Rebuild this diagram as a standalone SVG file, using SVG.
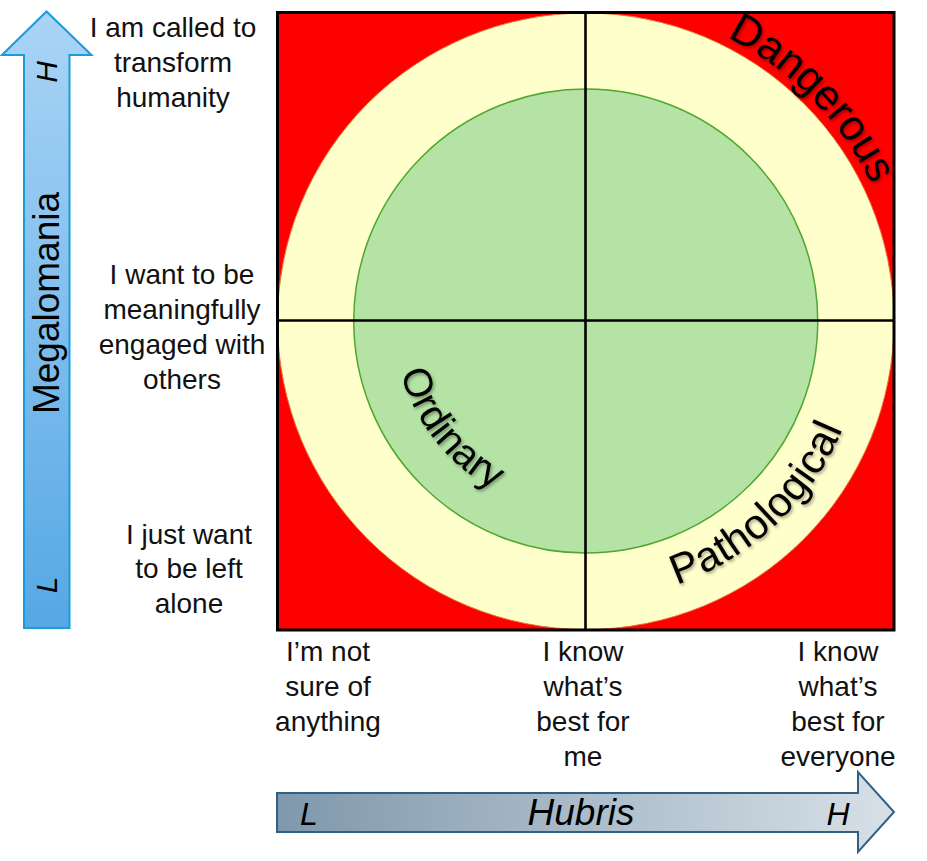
<svg xmlns="http://www.w3.org/2000/svg" width="927" height="861" viewBox="0 0 927 861">
<style>
.lbl{font-family:"Liberation Sans","Open Sans",Arial,sans-serif;font-size:28px;fill:#111;text-anchor:middle}
.arc{font-family:"Liberation Sans","Open Sans",Arial,sans-serif;fill:#000;filter:url(#sh)}
.ax{font-family:"Liberation Sans","Open Sans",Arial,sans-serif;fill:#000;text-anchor:middle}
.cross{stroke:#000;stroke-width:2.6;fill:none}
</style>
<defs>
<linearGradient id="gv" x1="0" y1="0" x2="0" y2="1">
<stop offset="0" stop-color="#AAD4F5"/>
<stop offset="1" stop-color="#55A8E5"/>
</linearGradient>
<linearGradient id="gh" x1="0" y1="0" x2="1" y2="0">
<stop offset="0" stop-color="#7F98AC"/>
<stop offset="1" stop-color="#D7E0E7"/>
</linearGradient>
<filter id="sh" x="-20%" y="-20%" width="140%" height="140%">
<feDropShadow dx="1.5" dy="2" stdDeviation="1.5" flood-color="#000" flood-opacity="0.35"/>
</filter>
<path id="pD" d="M670.2,15.5 A317,317 0 0 1 892.4,241.6"/>
<path id="pP" d="M649.2,592.6 A279,279 0 0 0 852.6,401.6"/>
<path id="pO" d="M395.7,349.7 A192,192 0 0 0 515.4,499.8"/>
</defs>

<g id="megalomania-axis">
<path d="M24,628 L24,55 L2,55 L46.5,11.5 L91.5,55 L69.5,55 L69.5,628 Z" fill="url(#gv)" stroke="#1B9BD7" stroke-width="2"/>
<text class="ax" font-size="30" font-style="italic" transform="translate(57,72) rotate(-90)">H</text>
<text class="ax" font-size="37" transform="translate(59,303) rotate(-90)">Megalomania</text>
<text class="ax" font-size="30" font-style="italic" transform="translate(57,585) rotate(-90)">L</text>
</g>

<g id="hubris-axis">
<path d="M277,793 L858,793 L858,772 L894,812 L858,852 L858,832 L277,832 Z" fill="url(#gh)" stroke="#2F6185" stroke-width="2"/>
<text class="ax" font-size="32" font-style="italic" x="309" y="825">L</text>
<text class="ax" font-size="37" font-style="italic" x="581" y="825">Hubris</text>
<text class="ax" font-size="32" font-style="italic" x="838" y="825">H</text>
</g>

<g id="chart">
<rect x="277.5" y="12.5" width="616.5" height="617.5" fill="#FF0000"/>
<circle cx="585.75" cy="321.25" r="308.25" fill="#FFFFCC" stroke="#E97132" stroke-width="1"/>
<circle cx="585.75" cy="321" r="232" fill="#B4E3A5" stroke="#4EA72E" stroke-width="1.5"/>
</g>

<g id="connectors">
<line class="cross" x1="585.5" y1="12.5" x2="585.5" y2="630"/>
<line class="cross" x1="277.5" y1="320.5" x2="894" y2="320.5"/>
</g>

<g id="frame">
<rect x="277.5" y="12.5" width="616.5" height="617.5" fill="none" stroke="#000" stroke-width="3"/>
</g>

<g id="zone-dangerous">
<text class="arc" font-size="43"><textPath href="#pD" startOffset="50%" text-anchor="middle">Dangerous</textPath></text>
</g>
<g id="zone-pathological">
<text class="arc" font-size="42" letter-spacing="0.5"><textPath href="#pP" startOffset="50%" text-anchor="middle">Pathological</textPath></text>
</g>
<g id="zone-ordinary">
<text class="arc" font-size="40"><textPath href="#pO" startOffset="50%" text-anchor="middle">Ordinary</textPath></text>
</g>

<g id="label-high">
<text class="lbl" x="173" y="37">I am called to</text>
<text class="lbl" x="173" y="72">transform</text>
<text class="lbl" x="173" y="107">humanity</text>
</g>
<g id="label-mid">
<text class="lbl" x="182" y="284">I want to be</text>
<text class="lbl" x="182" y="319">meaningfully</text>
<text class="lbl" x="182" y="354">engaged with</text>
<text class="lbl" x="182" y="389">others</text>
</g>
<g id="label-low">
<text class="lbl" x="189" y="544">I just want</text>
<text class="lbl" x="189" y="578">to be left</text>
<text class="lbl" x="189" y="613">alone</text>
</g>
<g id="label-hubris-low">
<text class="lbl" x="328" y="661">I’m not</text>
<text class="lbl" x="328" y="696">sure of</text>
<text class="lbl" x="328" y="731">anything</text>
</g>
<g id="label-hubris-mid">
<text class="lbl" x="583" y="661">I know</text>
<text class="lbl" x="583" y="696">what’s</text>
<text class="lbl" x="583" y="731">best for</text>
<text class="lbl" x="583" y="766">me</text>
</g>
<g id="label-hubris-high">
<text class="lbl" x="838" y="661">I know</text>
<text class="lbl" x="838" y="696">what’s</text>
<text class="lbl" x="838" y="731">best for</text>
<text class="lbl" x="838" y="766">everyone</text>
</g>
</svg>
